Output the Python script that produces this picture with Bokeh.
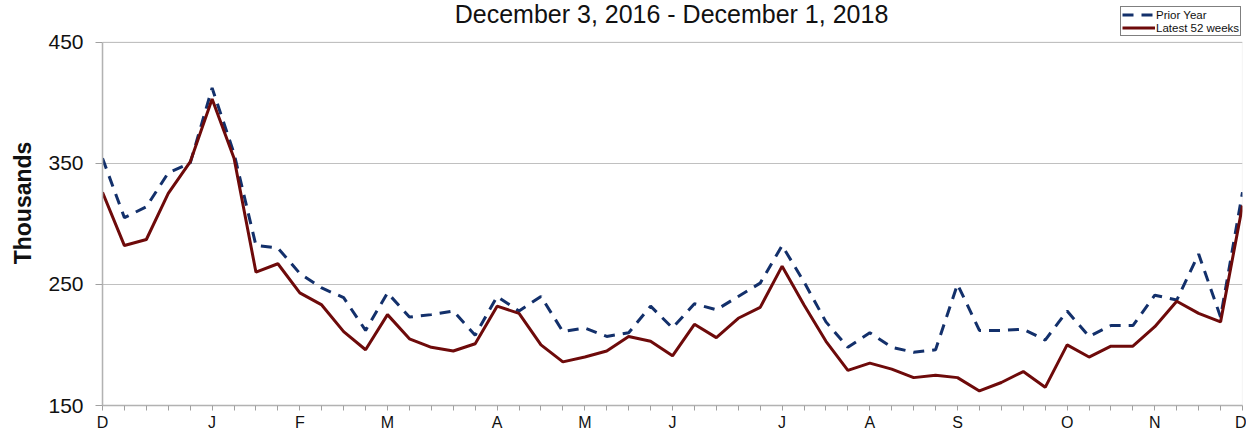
from bokeh.plotting import figure
from bokeh.models import Range1d, FixedTicker, Label, Legend, LegendItem, BoxAnnotation
from bokeh.embed import file_html
from bokeh.resources import INLINE

# ---- data ----
weeks = list(range(53))
prior_year = [354, 305, 314, 342, 350, 412, 358, 282, 280, 259, 247, 239, 212, 243,
              223, 225, 228, 208, 240, 228, 240, 211, 214, 207, 210, 232, 214, 234,
              229, 240, 251, 282, 252, 219, 198, 210, 198, 194, 196, 250, 212, 212,
              213, 204, 228, 207, 216, 216, 241, 237, 275, 223, 326]
latest_52 = [326, 282, 287, 325, 351, 403, 354, 260, 267, 243, 233, 211, 196, 225,
             205, 198, 195, 201, 232, 226, 200, 186, 190, 195, 207, 203, 191, 217,
             206, 222, 231, 265, 233, 203, 179, 185, 180, 173, 175, 173, 162, 169,
             178, 165, 200, 190, 199, 199, 215, 236, 226, 219, 315]
month_weeks = [0, 5, 9, 13, 18, 22, 26, 31, 35, 39, 44, 48, 52]
month_labels = ["D", "J", "F", "M", "A", "M", "J", "J", "A", "S", "O", "N", "D"]
y_ticks = [150, 250, 350, 450]
title_text = "December 3, 2016 - December 1, 2018"
y_label_text = "Thousands"

FONT = "Liberation Sans"
BLUE = "#13306b"
RED = "#6e0a0a"

# frame spans the full top so that the title and legend sit inside it;
# 150..450 occupies the lower 363.5 px of the 405 px frame
y_min, y_max = 150, 450
y_top = y_min + (y_max - y_min) * 405 / 363.5

p = figure(width=1246, height=434, output_backend="svg", toolbar_location=None,
           x_range=Range1d(0, 52), y_range=Range1d(y_min, y_top),
           min_border=0, min_border_left=102, min_border_right=4,
           min_border_top=0, min_border_bottom=29)
p.background_fill_color = "white"
p.border_fill_color = "white"
p.outline_line_color = None

# plot-area border (top/right)
p.add_layout(BoxAnnotation(left=0, right=52, bottom=y_min, top=y_max,
                           fill_alpha=0, line_color="#c0c0c0", line_width=1.2))

# lines
r_prior = p.line(weeks, prior_year, line_color=BLUE, line_width=3, line_dash="11 8")
r_latest = p.line(weeks, latest_52, line_color=RED, line_width=3)

# x axis
xa = p.xaxis[0]
xa.ticker = FixedTicker(ticks=weeks)
overrides = {w: "" for w in weeks}
for w, lab in zip(month_weeks, month_labels):
    overrides[w] = lab
xa.major_label_overrides = overrides
xa.major_tick_out = 5
xa.major_tick_in = 0
xa.minor_tick_out = 0
xa.minor_tick_in = 0
xa.major_tick_line_color = "#a0a0a0"
xa.axis_line_color = "#b0b0b0"
xa.axis_line_width = 1.5
xa.major_label_text_font = FONT
xa.major_label_text_font_size = "16px"
xa.major_label_text_color = "#111111"
xa.major_label_standoff = 3

# y axis
ya = p.yaxis[0]
ya.ticker = FixedTicker(ticks=y_ticks)
ya.bounds = (y_min, y_max)
ya.major_tick_out = 7
ya.major_tick_in = 0
ya.minor_tick_out = 0
ya.minor_tick_in = 0
ya.major_tick_line_color = "#a0a0a0"
ya.axis_line_color = "#b0b0b0"
ya.axis_line_width = 1.5
ya.major_label_text_font = FONT
ya.major_label_text_font_size = "21px"
ya.major_label_text_color = "#111111"
ya.major_label_standoff = 12
ya.axis_label = y_label_text
ya.axis_label_text_font = FONT
ya.axis_label_text_font_size = "23px"
ya.axis_label_text_font_style = "bold"
ya.axis_label_text_color = "#111111"
ya.axis_label_standoff = 9

p.xgrid.grid_line_color = None
p.ygrid.grid_line_color = "#c0c0c0"
p.ygrid.grid_line_width = 1.2
p.ygrid.ticker = FixedTicker(ticks=y_ticks)

# title
p.add_layout(Label(x=569, y=392, x_units="screen", y_units="screen",
                   text=title_text, text_font=FONT, text_font_size="25px",
                   text_align="center", text_baseline="alphabetic",
                   text_color="#111111"))

# legend
legend = Legend(items=[LegendItem(label="Prior Year", renderers=[r_prior]),
                       LegendItem(label="Latest 52 weeks", renderers=[r_latest])],
                location=(1018, 369))
legend.label_text_font = FONT
legend.label_text_font_size = "11.5px"
legend.label_text_color = "#111111"
legend.label_height = 13
legend.glyph_height = 13
legend.glyph_width = 33
legend.label_standoff = 1
legend.spacing = 0
legend.padding = 1
legend.margin = 0
legend.border_line_color = "black"
legend.border_line_width = 1
legend.background_fill_color = "white"
legend.background_fill_alpha = 1
p.add_layout(legend)

open("out.html", "w").write(file_html(p, INLINE))
